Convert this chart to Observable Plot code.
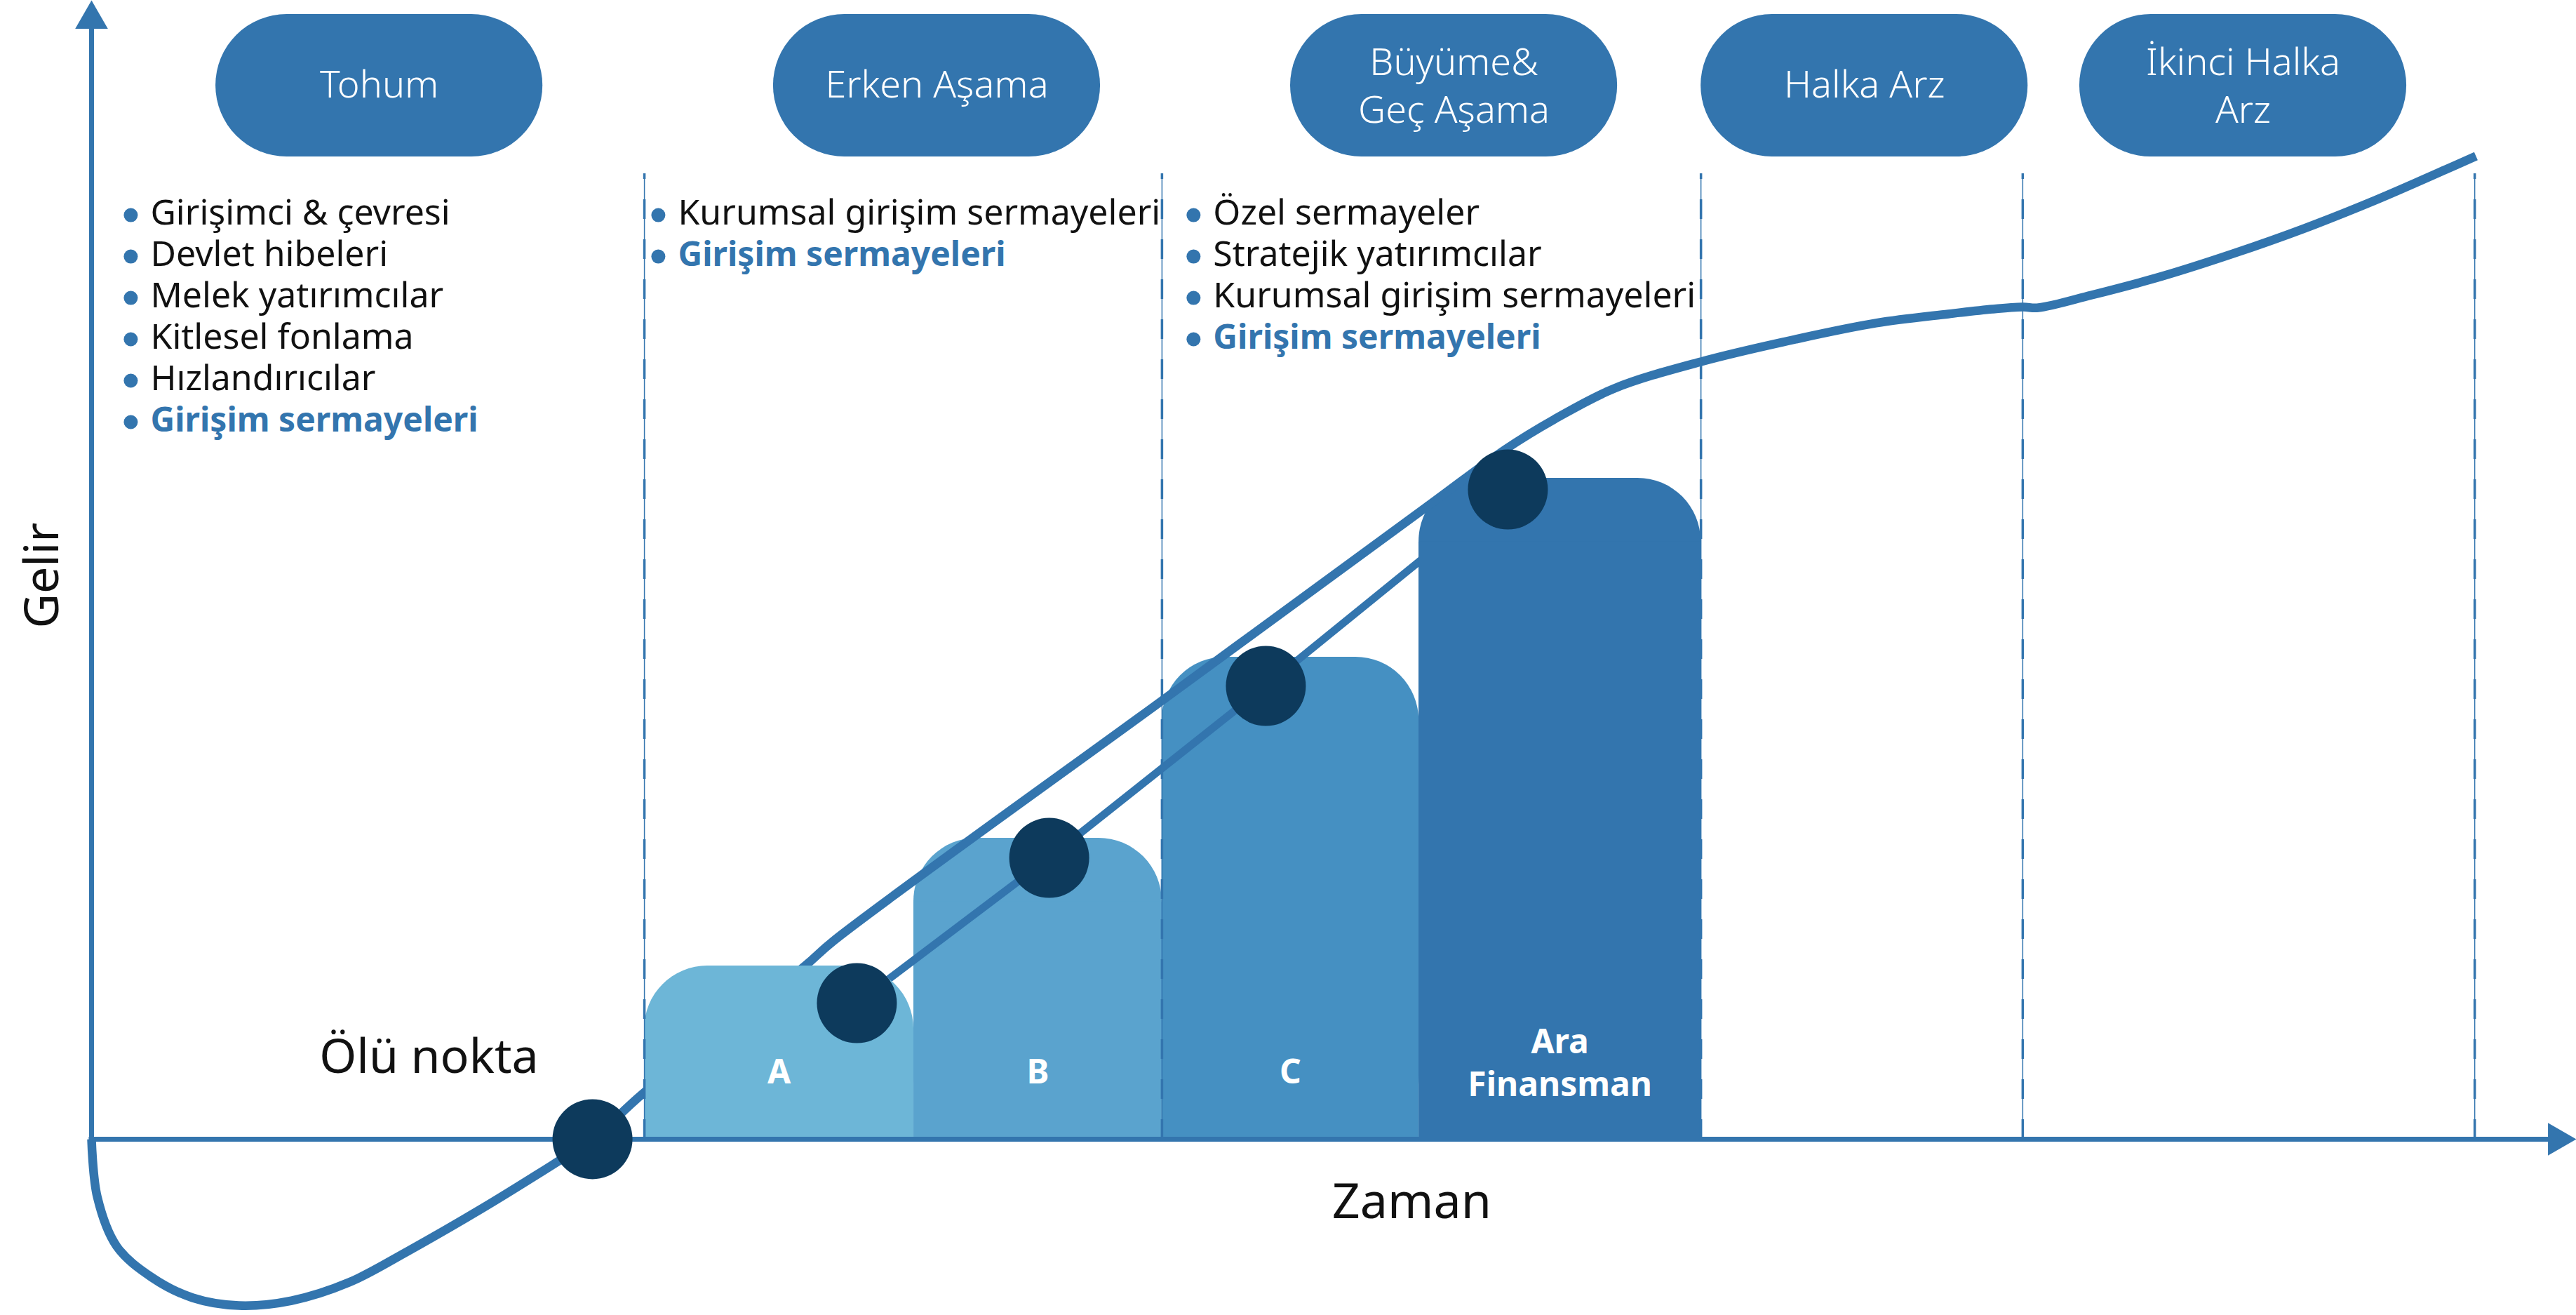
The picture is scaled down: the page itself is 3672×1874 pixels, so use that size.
<!DOCTYPE html>
<html>
<head>
<meta charset="utf-8">
<script src="https://cdn.jsdelivr.net/npm/d3@7"></script>
<script src="https://cdn.jsdelivr.net/npm/@observablehq/plot@0.6"></script>
<style>
  html, body { margin: 0; padding: 0; background: #ffffff; }
  #chart svg { display: block; }
</style>
</head>
<body>
<div id="chart"></div>
<script>
// ---------------- DATA ----------------
// Stages (header pills) and their centres on the time axis
const stageNames = ["Tohum", "Erken Aşama", "Büyüme&\nGeç Aşama", "Halka Arz", "İkinci Halka\nArz"];
const stageCenters = [11.58, 34.02, 54.83, 71.35, 86.59];
// Stage dividers on the time axis
const stageDividers = [22.25, 43.08, 64.77, 77.72, 95.91];

// Funding sources per stage
const tohumItems = ["Girişimci & çevresi", "Devlet hibeleri", "Melek yatırımcılar", "Kitlesel fonlama", "Hızlandırıcılar", "Girişim sermayeleri"];
const erkenItems = ["Kurumsal girişim sermayeleri", "Girişim sermayeleri"];
const buyumeItems = ["Özel sermayeler", "Stratejik yatırımcılar", "Kurumsal girişim sermayeleri", "Girişim sermayeleri"];
const highlightItem = "Girişim sermayeleri";

// Funding rounds (columns)
const roundNames = ["A", "B", "C", "Ara\nFinansman"];
const roundStart = [22.25, 33.09, 43.08, 53.42];
const roundEnd = [33.09, 43.08, 53.42, 64.77];
const roundHeight = [15.21, 26.43, 42.33, 58.04];

// Revenue (Gelir) curve over time (Zaman)
const revenueT = [0.00, 0.23, 1.02, 2.43, 4.07, 5.93, 8.05, 10.36, 12.71, 15.75, 18.58, 20.16, 22.22, 28.71, 29.87, 43.08, 53.76, 56.89, 58.87, 61.29, 64.77, 68.58, 71.82, 74.73, 76.51, 77.72, 78.35, 80.49, 83.34, 86.19, 89.05, 91.90, 94.75, 95.96];
const revenueR = [0.00, -5.06, -9.43, -12.14, -13.93, -14.61, -14.18, -12.58, -9.86, -6.04, -2.22, 0.00, 4.06, 15.21, 17.43, 38.51, 55.57, 60.56, 63.21, 65.93, 68.27, 70.24, 71.66, 72.46, 72.89, 73.07, 73.01, 74.12, 75.78, 77.76, 79.97, 82.44, 85.15, 86.32];

// Milestones: break-even point and funding round points
const milestoneT = [20.16, 30.80, 38.54, 47.26, 57.00];
const milestoneR = [0.00, 11.95, 24.70, 39.80, 57.05];
const breakEvenLabel = "Ölü nokta";

const xLabel = "Zaman";
const yLabel = "Gelir";

// ---------------- STYLE / LAYOUT ----------------
const blue = "#3375AE";
const navy = "#0D3A5C";
const roundColors = ["#6DB6D7", "#5AA3CE", "#4590C2", "#3375AE"];
const font = "'Noto Sans', 'Open Sans', sans-serif";
const layout = {
  pillHalfWidth: 6.58, pillTop: 98.77, pillBottom: 86.26,
  pillBaseline: 91.44, pillBaseline2: 89.22,
  listX: [2.37, 23.60, 45.14], listTop: 80.34, listStep: 3.635,
  dividerTop: 84.78, barCorner: 5.6,
  barLabelY: 4.92, barLabelY2: 3.81,
  breakX: 13.58, breakY: 5.79,
  xLabelPos: [53.13, -6.91], yLabelPos: [-1.33, 49.5],
  yAxisTop: 98.0, xAxisEnd: 99.2
};

// ---------------- TABLES ----------------
const stages = stageNames.map((name, i) => ({
  name, x1: stageCenters[i] - layout.pillHalfWidth, x2: stageCenters[i] + layout.pillHalfWidth,
  xc: stageCenters[i], multi: name.includes("\n")
}));
const bars = roundNames.map((name, i) => ({
  name, x1: roundStart[i], x2: roundEnd[i], top: roundHeight[i], color: roundColors[i]
}));
const listRows = [tohumItems, erkenItems, buyumeItems].flatMap((items, c) =>
  items.map((text, i) => ({ x: layout.listX[c], y: layout.listTop - i * layout.listStep, text, hi: text === highlightItem }))
);
const revenue = revenueT.map((t, i) => ({ t, r: revenueR[i] }));
const milestones = milestoneT.map((t, i) => ({ t, r: milestoneR[i] }));
const fundingLine = milestones.slice(1);

function barMarks(i) {
  const d = [bars[i]];
  return [
    Plot.rect(d, { x1: "x1", x2: "x2", y1: () => 0, y2: "top", fill: bars[i].color, rx: 90 }),
    Plot.rect(d, { x1: "x1", x2: "x2", y1: () => 0, y2: (b) => b.top - layout.barCorner, fill: bars[i].color })
  ];
}

const chart = Plot.plot({
  width: 3672,
  height: 1874,
  margin: 0,
  x: { domain: [-3.67, 100], axis: null },
  y: { domain: [-15.47, 100], axis: null },
  style: { fontFamily: font, background: "#ffffff", overflow: "visible" },
  marks: [
    // bars B, C
    ...barMarks(1),
    ...barMarks(2),
    // funding line through round milestones
    Plot.line(fundingLine, { x: "t", y: "r", stroke: blue, strokeWidth: 11 }),
    // bar Ara
    ...barMarks(3),
    // revenue curve
    Plot.line(revenue, { x: "t", y: "r", curve: "catmull-rom", stroke: blue, strokeWidth: 12.5, strokeLinecap: "butt" }),
    // bar A
    ...barMarks(0),
    // stage dividers
    Plot.ruleX(stageDividers, { y1: 0, y2: layout.dividerTop, stroke: blue, strokeWidth: 1.5 }),
    Plot.ruleX(stageDividers, { y1: 0, y2: layout.dividerTop, stroke: blue, strokeWidth: 3.5, strokeDasharray: "28,29" }),
    // axes
    Plot.ruleX([0], { y1: 0, y2: layout.yAxisTop, stroke: blue, strokeWidth: 7 }),
    Plot.ruleY([0], { x1: -0.1, x2: layout.xAxisEnd, stroke: blue, strokeWidth: 7 }),
    Plot.dot([{ t: 0, r: 100 }], { x: "t", y: "r", symbol: "triangle", r: 17.3, fill: blue, dy: 27 }),
    Plot.dot([{ t: 100, r: 0 }], { x: "t", y: "r", symbol: "triangle", r: 17.3, fill: blue, rotate: 90, dx: -27 }),
    // milestones
    Plot.dot(milestones, { x: "t", y: "r", r: 57, fill: navy }),
    // stage pills
    Plot.rect(stages, { x1: "x1", x2: "x2", y1: () => layout.pillBottom, y2: () => layout.pillTop, fill: blue, rx: 101.5 }),
    Plot.text(stages, { x: "xc", y: (d) => d.multi ? layout.pillBaseline2 : layout.pillBaseline, text: "name",
      fill: "white", fontSize: 54, fontWeight: 300, lineAnchor: "bottom", lineHeight: 1.26, textAnchor: "middle" }),
    // lists
    Plot.dot(listRows, { x: "x", y: "y", r: 10, fill: blue, dx: -28, dy: -13 }),
    Plot.text(listRows.filter((d) => !d.hi), { x: "x", y: "y", text: "text", fill: "#111", fontSize: 50,
      textAnchor: "start", lineAnchor: "bottom" }),
    Plot.text(listRows.filter((d) => d.hi), { x: "x", y: "y", text: "text", fill: blue, fontSize: 48, fontWeight: "bold",
      textAnchor: "start", lineAnchor: "bottom" }),
    // bar labels
    Plot.text(bars, { x: (d) => (d.x1 + d.x2) / 2, y: (d) => d.name.includes("\n") ? layout.barLabelY2 : layout.barLabelY,
      text: "name", fill: "white", fontSize: 48, fontWeight: "bold", lineAnchor: "bottom", lineHeight: 1.27, textAnchor: "middle" }),
    // break-even label
    Plot.text([breakEvenLabel], { x: () => layout.breakX, y: () => layout.breakY, text: (d) => d, fill: "#111",
      fontSize: 68, lineAnchor: "bottom", textAnchor: "middle" }),
    // axis labels
    Plot.text([xLabel], { x: () => layout.xLabelPos[0], y: () => layout.xLabelPos[1], text: (d) => d, fill: "#111",
      fontSize: 70, lineAnchor: "bottom", textAnchor: "middle" }),
    Plot.text([yLabel], { x: () => layout.yLabelPos[0], y: () => layout.yLabelPos[1], text: (d) => d, fill: "#111",
      fontSize: 68, lineAnchor: "bottom", textAnchor: "middle", rotate: -90 })
  ]
});
document.getElementById("chart").appendChild(chart);
</script>
</body>
</html>
